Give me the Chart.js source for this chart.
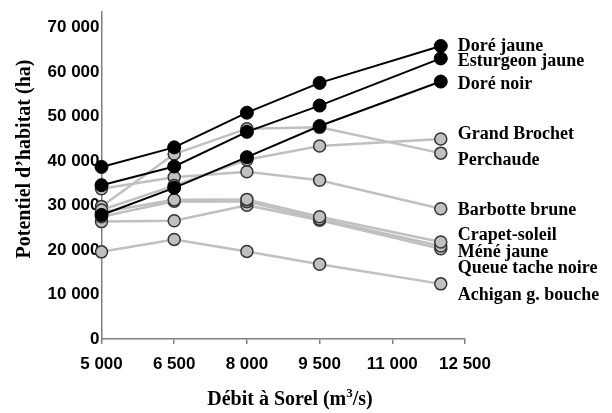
<!DOCTYPE html>
<html>
<head>
<meta charset="utf-8">
<script src="https://cdn.jsdelivr.net/npm/chart.js@4"></script>
<style>
  html, body { margin: 0; background: #fff; }
  #wrap { width: 612px; height: 413px; }
</style>
</head>
<body>
<div id="wrap"><canvas id="chart"></canvas></div>
<script>
const FLOWS = [5000, 6500, 8000, 9500, 12000];
const X_TICKS = [5000, 6500, 8000, 9500, 11000, 12500];
const Y_TICKS = [0, 10000, 20000, 30000, 40000, 50000, 60000, 70000];

const NAMES = [
  "Doré jaune", "Esturgeon jaune", "Doré noir",
  "Grand Brochet", "Perchaude", "Barbotte brune",
  "Crapet-soleil", "Méné jaune", "Queue tache noire", "Achigan g. bouche",
];

const doreJaune = [38700, 43100, 50900, 57600, 65900];
const esturgeonJaune = [34600, 38800, 46600, 52500, 63100];
const doreNoir = [27900, 34000, 40900, 47900, 57900];
const grandBrochet = [29000, 34500, 40300, 43400, 45000];
const perchaude = [29800, 41600, 47300, 47600, 41800];
const barbotte = [33800, 36400, 37600, 35700, 29300];
const crapet = [28500, 31300, 31400, 27500, 21800];
const mene = [27500, 31000, 30900, 27000, 20900];
const queueTache = [26400, 26600, 30100, 26700, 20300];
const achigan = [19600, 22400, 19700, 16800, 12400];

const VALUES = [doreJaune, esturgeonJaune, doreNoir, grandBrochet, perchaude,
  barbotte, crapet, mene, queueTache, achigan];

const SANS = '"Liberation Sans", Arial, sans-serif';
const SERIF = '"Liberation Serif", "Times New Roman", serif';

function fmt(v) {
  return String(v).replace(/\B(?=(\d{3})+(?!\d))/g, " ");
}

function makeDataset(name, i) {
  const dark = i < 3;
  return {
    label: name,
    data: FLOWS.map((x, k) => ({ x, y: VALUES[i][k] })),
    borderColor: dark ? "#000" : "#c0c0c0",
    borderWidth: dark ? 2 : 2.5,
    pointBackgroundColor: dark ? "#000" : "#c0c0c0",
    pointBorderColor: dark ? "#000" : "#333",
    pointBorderWidth: dark ? 1 : 1.5,
    pointRadius: dark ? 6.5 : 6,
    tension: 0,
    clip: false,
  };
}

// series names at the line ends + both axis titles
const labelsPlugin = {
  id: "endLabels",
  afterDraw(chart, args, opts) {
    const ctx = chart.ctx;
    ctx.save();
    ctx.fillStyle = "#000";
    ctx.font = "bold 18px " + SERIF;
    ctx.textAlign = "left";
    ctx.textBaseline = "middle";
    chart.data.datasets.forEach((ds, i) => {
      const pts = chart.getDatasetMeta(i).data;
      const last = pts[pts.length - 1];
      ctx.fillText(ds.label, last.x + 17, last.y + opts.nudge[i]);
    });

    // y title
    ctx.font = "bold 20px " + SERIF;
    ctx.save();
    ctx.translate(25, 159);
    ctx.rotate(-Math.PI / 2);
    ctx.textAlign = "center";
    ctx.fillText("Potentiel d\u2019habitat (ha)", 0, 0);
    ctx.restore();

    // x title with superscript
    const a = "Débit à Sorel (m", b = "3", c = "/s)";
    ctx.textBaseline = "alphabetic";
    ctx.font = "bold 20px " + SERIF;
    const wa = ctx.measureText(a).width, wc = ctx.measureText(c).width;
    ctx.font = "bold 13px " + SERIF;
    const wb = ctx.measureText(b).width;
    let x = 290 - (wa + wb + wc) / 2;
    const y = 405;
    ctx.font = "bold 20px " + SERIF;
    ctx.fillText(a, x, y);
    x += wa;
    ctx.font = "bold 13px " + SERIF;
    ctx.fillText(b, x, y - 8);
    x += wb;
    ctx.font = "bold 20px " + SERIF;
    ctx.fillText(c, x, y);
    ctx.restore();
  },
};

new Chart(document.getElementById("chart"), {
  type: "line",
  data: { datasets: NAMES.map(makeDataset) },
  options: {
    responsive: true,
    maintainAspectRatio: false,
    animation: false,
    layout: { padding: { top: 8, right: 147, left: 0, bottom: 0 } },
    plugins: {
      legend: { display: false },
      tooltip: { enabled: false },
      endLabels: { nudge: [0, 3, 3, -5, 7, 2, -7, 6, 20, 11] },
    },
    scales: {
      x: {
        type: "linear",
        min: 5000,
        max: 12500,
        afterBuildTicks: (scale) => { scale.ticks = X_TICKS.map((v) => ({ value: v })); },
        afterFit: (scale) => { scale.height = 74; },
        grid: { drawOnChartArea: false, drawTicks: true, tickLength: 5, color: "#808080", lineWidth: 1.5 },
        border: { color: "#808080", width: 1.5 },
        ticks: {
          color: "#000",
          padding: 10,
          font: { family: SANS, size: 17, weight: "bold" },
          callback: (v) => fmt(v),
          maxRotation: 0,
        },
      },
      y: {
        min: 0,
        max: 73500,
        afterBuildTicks: (scale) => { scale.ticks = Y_TICKS.map((v) => ({ value: v })); },
        afterFit: (scale) => { scale.width = 101.5; },
        grid: { drawOnChartArea: false, drawTicks: false },
        border: { color: "#808080", width: 1.5 },
        ticks: {
          color: "#000",
          padding: 2,
          font: { family: SANS, size: 17, weight: "bold" },
          callback: (v) => fmt(v),
        },
      },
    },
  },
  plugins: [labelsPlugin],
});
</script>
</body>
</html>
